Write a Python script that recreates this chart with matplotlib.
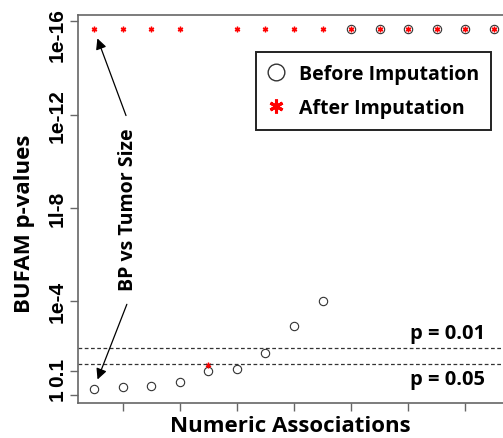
import numpy as np
import matplotlib
matplotlib.use("Agg")
import matplotlib.pyplot as plt
import matplotlib.transforms as mtransforms
from matplotlib.lines import Line2D

# ---- data (p-values) ----
assoc_idx = np.arange(1, 16)
p_before = [0.55, 0.46, 0.41, 0.28, 0.10, 0.083, 0.017, 0.0012, 1.0e-4,
            2.2e-16, 2.2e-16, 2.2e-16, 2.2e-16, 2.2e-16, 2.2e-16]
p_after = [2.2e-16, 2.2e-16, 2.2e-16, 2.2e-16, 0.056, 2.2e-16, 2.2e-16, 2.2e-16,
           2.2e-16, 2.2e-16, 2.2e-16, 2.2e-16, 2.2e-16, 2.2e-16, 2.2e-16]
cutoffs = [0.01, 0.05]
cutoff_labels = ["p = 0.01", "p = 0.05"]
ytick_p = [1, 0.1, 1e-4, 1e-8, 1e-12, 1e-16]
ytick_labels = ["1", "0.1", "1e-4", "1l-8", "1e-12", "1e-16"]
xtick_idx = [2, 4, 6, 8, 10, 12, 14]

LABEL_FONT = "Open Sans"
TICK_FONT = "Liberation Sans"
SPINE = "#666666"

y_before = -np.log10(p_before)
y_after = -np.log10(p_after)

fig = plt.figure(figsize=(5.03, 4.39), dpi=100)
ax = fig.add_axes([78 / 503, 35 / 439, 432 / 503, 388 / 439])

ax.plot(assoc_idx, y_before, linestyle="none", marker="o", markersize=6,
        markerfacecolor="none", markeredgecolor="#333333", markeredgewidth=0.8)
ax.plot(assoc_idx, y_after, linestyle="none", marker=(6, 2, 0), markersize=4,
        color="red", markeredgewidth=1.0)

for p in cutoffs:
    ax.axhline(-np.log10(p), color="#333333", linestyle=(0, (3, 2)), linewidth=0.9)

ax.text(14.68, -np.log10(cutoffs[0]) + 0.22, cutoff_labels[0], ha="right", va="bottom",
        fontsize=14.5, fontweight="bold", family=LABEL_FONT)
ax.text(14.68, -np.log10(cutoffs[1]) - 0.2, cutoff_labels[1], ha="right", va="top",
        fontsize=14.5, fontweight="bold", family=LABEL_FONT)

ax.set_xlim(0.44, 15.56)
ax.set_ylim(-0.36, 16.27)
ax.set_xticks(xtick_idx)
ax.set_xticklabels([])
ax.set_yticks(-np.log10(ytick_p))
ax.set_yticklabels(ytick_labels, rotation=90, va="center", fontsize=15,
                   fontweight="bold", family=TICK_FONT)
ax.tick_params(direction="out", length=6, width=1, color=SPINE, pad=2)
for sp in ax.spines.values():
    sp.set_color(SPINE)
    sp.set_linewidth(1.2)

# the top label sits a little lower than its tick
top_lab = ax.get_yticklabels()[-1]
top_lab.set_transform(top_lab.get_transform() +
                      mtransforms.ScaledTranslation(0, -13 / 100, fig.dpi_scale_trans))

fig.text(290 / 503, 1 - 427 / 439, "Numeric Associations", ha="center", va="center",
         fontsize=16, fontweight="bold", family=LABEL_FONT)
fig.text(25 / 503, 1 - 224 / 439, "BUFAM p-values", rotation=90, ha="center",
         va="center", fontsize=16, fontweight="bold", family=LABEL_FONT)

# annotation arrows to the BP vs Tumor Size association
arrow = dict(arrowstyle="-|>", color="black", lw=0.9, mutation_scale=16,
             shrinkA=0, shrinkB=7)
ax.annotate("", xy=(assoc_idx[0], y_after[0]), xytext=(2.12, 11.96), arrowprops=arrow)
ax.annotate("", xy=(assoc_idx[0], y_before[0]), xytext=(2.15, 3.87), arrowprops=arrow)
ax.text(2.2, 7.95, "BP vs Tumor Size", rotation=90, ha="center", va="center",
        fontsize=14, fontweight="bold", family=LABEL_FONT)

handles = [
    Line2D([], [], linestyle="none", marker="o", markersize=12,
           markerfacecolor="none", markeredgecolor="#333333", markeredgewidth=1.0),
    Line2D([], [], linestyle="none", marker=(6, 2, 0), markersize=10,
           color="red", markeredgewidth=2.2),
]
leg = ax.legend(handles, ["Before Imputation", "After Imputation"],
                loc="upper left", bbox_to_anchor=(256 / 503, 1 - 53 / 439),
                bbox_transform=fig.transFigure, fancybox=False, framealpha=1,
                edgecolor="#222222", borderpad=0.6, borderaxespad=0,
                handletextpad=0.75, labelspacing=0.75, handlelength=0.85,
                prop=dict(family=LABEL_FONT, weight="bold", size=14))
leg.get_frame().set_linewidth(1.4)

fig.savefig("out.png", dpi=100)
